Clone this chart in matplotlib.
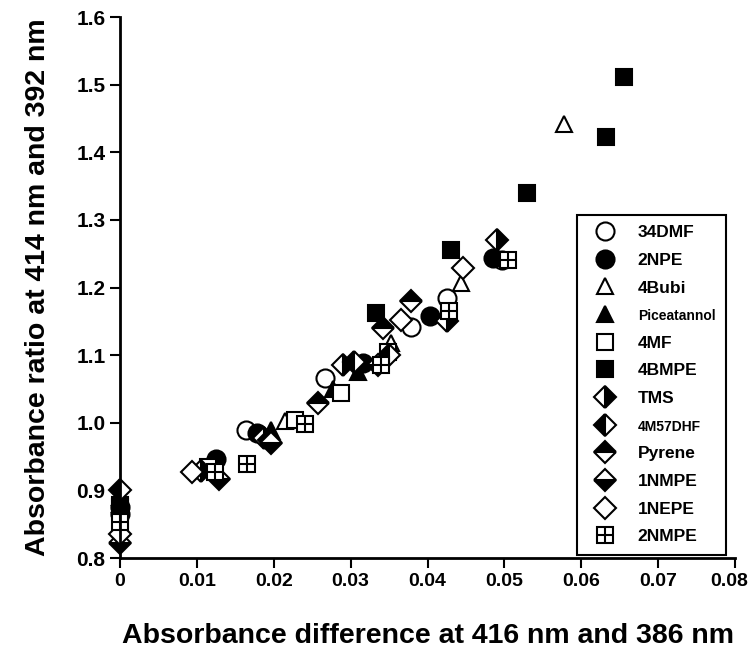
import matplotlib
matplotlib.use("Agg")
import matplotlib.pyplot as plt
import matplotlib.transforms as mtransforms
from matplotlib.lines import Line2D
from matplotlib.legend_handler import HandlerTuple

plt.rcParams['font.family'] = ['Liberation Sans', 'DejaVu Sans']
plt.rcParams['font.weight'] = 'bold'

# ---- data ----
x_34DMF = [0.0, 0.0164, 0.0267, 0.0378, 0.0426, 0.0497]
y_34DMF = [0.865, 0.989, 1.066, 1.142, 1.185, 1.240]
x_2NPE = [0.0, 0.0125, 0.0178, 0.0316, 0.0403, 0.0485]
y_2NPE = [0.875, 0.946, 0.985, 1.088, 1.158, 1.243]
x_4Bubi = [0.0, 0.0215, 0.0352, 0.0444, 0.0577]
y_4Bubi = [0.890, 1.002, 1.118, 1.207, 1.442]
x_Picea = [0.0, 0.0125, 0.0197, 0.0277, 0.0310]
y_Picea = [0.880, 0.935, 0.990, 1.050, 1.075]
x_4MF = [0.0, 0.0115, 0.0228, 0.0288, 0.0348]
y_4MF = [0.875, 0.935, 1.004, 1.044, 1.104]
x_4BMPE = [0.0, 0.0333, 0.0431, 0.0529, 0.0632, 0.0656]
y_4BMPE = [0.878, 1.162, 1.256, 1.340, 1.423, 1.511]
x_TMS = [0.0105, 0.0187, 0.0290, 0.0426, 0.0490]
y_TMS = [0.928, 0.978, 1.085, 1.150, 1.270]
x_4M57DHF = [0.0, 0.0194, 0.0305, 0.0350]
y_4M57DHF = [0.900, 0.975, 1.090, 1.100]
x_Pyrene = [0.0258, 0.0342, 0.0378]
y_Pyrene = [1.030, 1.140, 1.180]
x_1NMPE = [0.0, 0.0129, 0.0196, 0.0335]
y_1NMPE = [0.823, 0.917, 0.970, 1.085]
x_1NEPE = [0.0, 0.0094, 0.0365, 0.0446]
y_1NEPE = [0.835, 0.927, 1.152, 1.229]
x_2NMPE = [0.0, 0.0123, 0.0165, 0.0241, 0.0339, 0.0428, 0.0505]
y_2NMPE = [0.853, 0.927, 0.939, 0.998, 1.085, 1.166, 1.240]

fig = plt.figure(figsize=(7.5, 6.55), dpi=100)
ax = fig.add_axes([0.16, 0.148, 0.82, 0.826])

ms_c = 13
ms_s = 12
ms_d = 11
ms_t = 12
mew = 1.5

def mk(marker, ms, face, fill='full', alt='white'):
    return dict(marker=marker, markersize=ms, markerfacecolor=face,
                markeredgecolor='black', markeredgewidth=mew,
                fillstyle=fill, markerfacecoloralt=alt, linestyle='none')

styles = {
    '34DMF': mk('o', ms_c, 'white'),
    '2NPE': mk('o', ms_c, 'black'),
    '4Bubi': mk('^', ms_t, 'white'),
    'Piceatannol': mk('^', ms_t, 'black'),
    '4MF': mk('s', ms_s, 'white'),
    '4BMPE': mk('s', ms_s, 'black'),
    'TMS': mk('D', ms_d, 'black', 'right'),
    '4M57DHF': mk('D', ms_d, 'black', 'left'),
    'Pyrene': mk('D', ms_d, 'black', 'top'),
    '1NMPE': mk('D', ms_d, 'black', 'bottom'),
    '1NEPE': mk('D', ms_d, 'white'),
    '2NMPE': mk('s', ms_s, 'white'),
}

series = [
    ('34DMF', x_34DMF, y_34DMF),
    ('2NPE', x_2NPE, y_2NPE),
    ('4Bubi', x_4Bubi, y_4Bubi),
    ('Piceatannol', x_Picea, y_Picea),
    ('4MF', x_4MF, y_4MF),
    ('4BMPE', x_4BMPE, y_4BMPE),
    ('TMS', x_TMS, y_TMS),
    ('4M57DHF', x_4M57DHF, y_4M57DHF),
    ('Pyrene', x_Pyrene, y_Pyrene),
    ('1NMPE', x_1NMPE, y_1NMPE),
    ('1NEPE', x_1NEPE, y_1NEPE),
    ('2NMPE', x_2NMPE, y_2NMPE),
]

handles = []
labels = []
for name, xs, ys in series:
    ax.plot(xs, ys, clip_on=False, **styles[name])
    h = Line2D([], [], **styles[name])
    if name == '2NMPE':
        ax.plot(xs, ys, marker='+', markersize=ms_s, markeredgecolor='black',
                markeredgewidth=mew, linestyle='none', clip_on=False)
        h2 = Line2D([], [], marker='+', markersize=ms_s, markeredgecolor='black',
                    markeredgewidth=mew, linestyle='none')
        h = (h, h2)
    handles.append(h)
    labels.append(name)

ax.set_xlim(0, 0.08)
ax.set_ylim(0.8, 1.6)
ax.set_xticks([0, 0.01, 0.02, 0.03, 0.04, 0.05, 0.06, 0.07, 0.08])
ax.set_xticklabels(['0', '0.01', '0.02', '0.03', '0.04', '0.05', '0.06', '0.07', '0.08'])
ax.set_yticks([0.8, 0.9, 1.0, 1.1, 1.2, 1.3, 1.4, 1.5, 1.6])
ax.set_yticklabels(['0.8', '0.9', '1.0', '1.1', '1.2', '1.3', '1.4', '1.5', '1.6'])
ax.spines['top'].set_visible(False)
ax.spines['right'].set_visible(False)
for s in ('left', 'bottom'):
    ax.spines[s].set_linewidth(2)
ax.tick_params(axis='y', direction='out', length=7, width=1.5, labelsize=15)
ax.tick_params(axis='x', direction='out', length=7, width=1.5, labelsize=14)
for t in ax.get_xticklabels() + ax.get_yticklabels():
    t.set_fontweight('bold')
last = ax.get_xticklabels()[-1]
last.set_transform(last.get_transform() +
                   mtransforms.ScaledTranslation(-6 / 100, 0, fig.dpi_scale_trans))

ax.set_xlabel('Absorbance difference at 416 nm and 386 nm',
              fontsize=20.5, fontweight='bold', labelpad=24)
ax.set_ylabel('Absorbance ratio at 414 nm and 392 nm',
              fontsize=20.5, fontweight='bold', labelpad=18)

leg = ax.legend(handles, labels, loc='lower right',
                bbox_to_anchor=(0.985, 0.006), borderaxespad=0,
                frameon=True, fancybox=False,
                edgecolor='black', framealpha=1,
                labelspacing=0.72, handletextpad=0.9, borderpad=0.6,
                handler_map={tuple: HandlerTuple(ndivide=1, pad=0)},
                prop={'weight': 'bold', 'size': 12.5})
leg.get_frame().set_linewidth(1.5)
for t in leg.get_texts():
    if t.get_text() in ('Piceatannol', '4M57DHF'):
        t.set_fontsize(10)

fig.savefig('out.png', dpi=100)
